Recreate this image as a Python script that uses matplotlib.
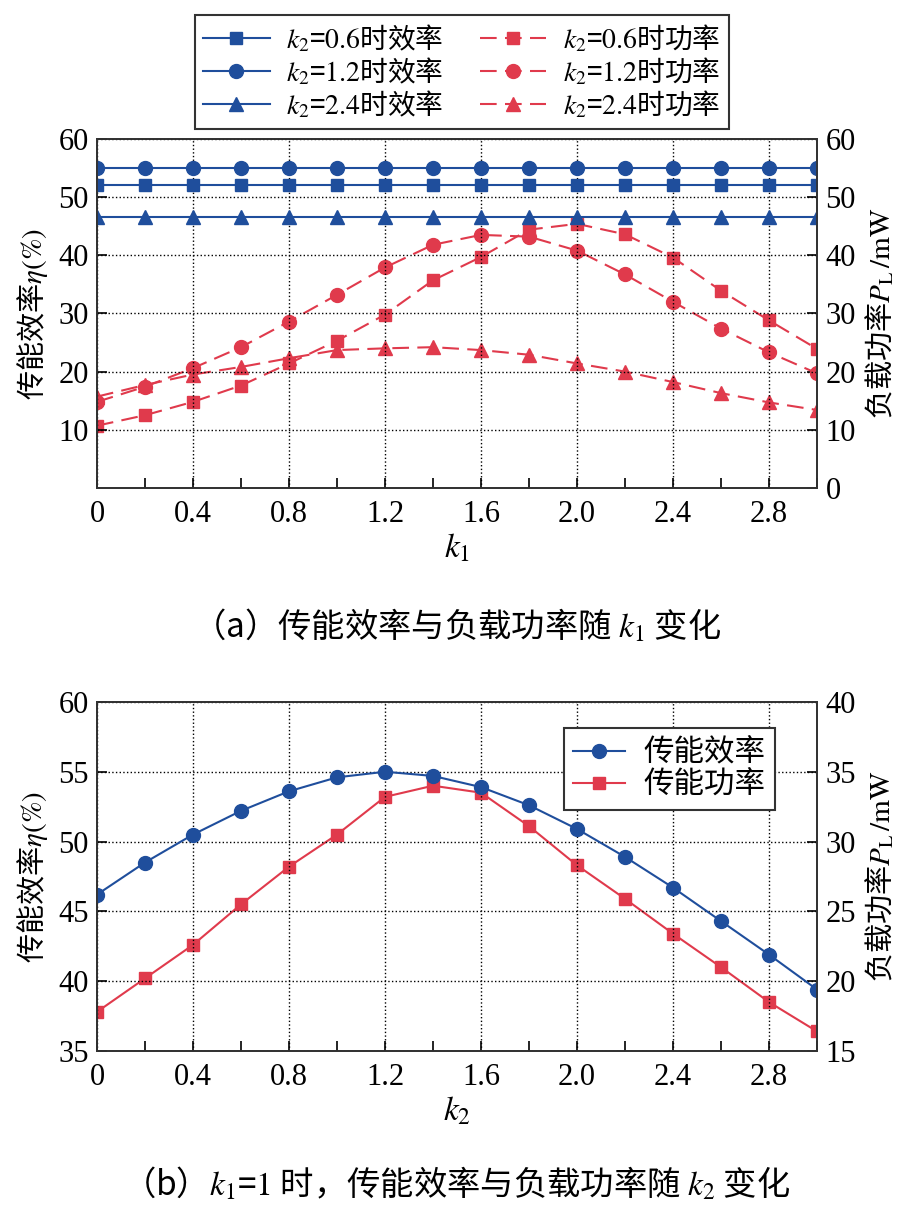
import matplotlib
matplotlib.use('Agg')
import matplotlib.pyplot as plt
from matplotlib.ticker import MultipleLocator

plt.rcParams['font.family'] = ['Liberation Serif', 'Noto Sans CJK SC']
plt.rcParams['mathtext.fontset'] = 'stix'
CJK = 'Noto Sans CJK SC'

# ---- data (a): vs k1 ----
k1 = [0.0, 0.2, 0.4, 0.6, 0.8, 1.0, 1.2, 1.4, 1.6, 1.8, 2.0, 2.2, 2.4, 2.6, 2.8, 3.0]
eff_k2_06 = [52.1] * 16
eff_k2_12 = [55.0] * 16
eff_k2_24 = [46.6] * 16
pow_k2_06 = [10.7, 12.5, 14.8, 17.6, 21.4, 25.3, 29.8, 35.7, 39.7, 44.4, 45.4, 43.6, 39.6, 33.9, 28.8, 23.9]
pow_k2_12 = [14.8, 17.4, 20.6, 24.2, 28.6, 33.2, 37.9, 41.8, 43.5, 43.2, 40.8, 36.7, 32.0, 27.4, 23.3, 19.7]
pow_k2_24 = [15.7, 17.7, 19.5, 20.8, 22.3, 23.7, 24.0, 24.2, 23.7, 22.9, 21.4, 20.0, 18.2, 16.3, 14.7, 13.4]

# ---- data (b): vs k2, k1 = 1 ----
k2 = [0.0, 0.2, 0.4, 0.6, 0.8, 1.0, 1.2, 1.4, 1.6, 1.8, 2.0, 2.2, 2.4, 2.6, 2.8, 3.0]
eff_b = [46.2, 48.5, 50.5, 52.2, 53.6, 54.6, 55.0, 54.7, 53.9, 52.6, 50.9, 48.9, 46.7, 44.3, 41.9, 39.4]
pow_b = [17.8, 20.2, 22.6, 25.5, 28.2, 30.5, 33.2, 34.0, 33.5, 31.1, 28.3, 25.9, 23.4, 21.0, 18.5, 16.4]

x_ticks = [0, 0.4, 0.8, 1.2, 1.6, 2.0, 2.4, 2.8]
x_labels = ['0', '0.4', '0.8', '1.2', '1.6', '2.0', '2.4', '2.8']

BLUE = '#1f4e9c'
RED = '#e03a4c'
FS = 22
DASH = (0, (8, 4))
EFF_LABEL = '传能效率$\\eta\\mathrm{(\\%)}$'
POW_LABEL = '负载功率$P_\\mathrm{L}\\,\\mathrm{/mW}$'


def style_axes(ax, ax2):
    for a in (ax, ax2):
        for s in a.spines.values():
            s.set_linewidth(1.3)
            s.set_color('#333333')
    ax.set_xlim(0, 3.0)
    ax.set_xticks(x_ticks)
    ax.set_xticklabels(x_labels)
    ax.xaxis.set_minor_locator(MultipleLocator(0.2))
    ax.tick_params(axis='x', which='both', direction='in', top=False, length=7, width=1.2,
                   labelsize=FS, pad=9)
    ax.tick_params(axis='y', which='both', direction='in', right=False, length=7, width=1.2,
                   labelsize=FS, pad=6)
    ax2.tick_params(axis='y', direction='in', length=7, width=1.2, labelsize=FS, pad=6)
    ax.grid(True, which='major', linestyle=':', color='black', linewidth=1.0)


fig = plt.figure(figsize=(9.13, 12.09), dpi=100)

# ---------- (a) ----------
ax = fig.add_axes([0.1062, 0.5964, 0.7887, 0.2887])
ax2 = ax.twinx()
l1, = ax.plot(k1, eff_k2_06, color=BLUE, marker='s', ms=9, lw=1.5)
l2, = ax.plot(k1, eff_k2_12, color=BLUE, marker='o', ms=10, lw=1.5)
l3, = ax.plot(k1, eff_k2_24, color=BLUE, marker='^', ms=10, lw=1.5)
p1, = ax2.plot(k1, pow_k2_06, color=RED, marker='s', ms=9, lw=1.5, ls=DASH)
p2, = ax2.plot(k1, pow_k2_12, color=RED, marker='o', ms=10, lw=1.5, ls=DASH)
p3, = ax2.plot(k1, pow_k2_24, color=RED, marker='^', ms=10, lw=1.5, ls=DASH)
ax.set_ylim(0, 60)
ax2.set_ylim(0, 60)
ax.set_yticks([10, 20, 30, 40, 50, 60])
ax2.set_yticks([0, 10, 20, 30, 40, 50, 60])
style_axes(ax, ax2)
ax.set_xlabel('$k_1$', fontsize=FS + 2, labelpad=2)
ax.set_ylabel(EFF_LABEL, fontsize=21, family=CJK, labelpad=6)
ax2.set_ylabel(POW_LABEL, fontsize=21, family=CJK, labelpad=6)
ax.set_zorder(ax2.get_zorder() + 1)
ax.patch.set_visible(False)

leg = fig.legend([l1, l2, l3, p1, p2, p3],
                 ['$k_2$=$0.6$时效率', '$k_2$=$1.2$时效率', '$k_2$=$2.4$时效率',
                  '$k_2$=$0.6$时功率', '$k_2$=$1.2$时功率', '$k_2$=$2.4$时功率'],
                 ncol=2, loc='upper center', bbox_to_anchor=(0.5055, 0.999),
                 prop={'family': CJK, 'size': 20}, fancybox=False, edgecolor='#333333',
                 framealpha=1, handlelength=2.4, columnspacing=1.3, labelspacing=0.05,
                 borderpad=0.3, handletextpad=0.6)
leg.get_frame().set_linewidth(1.5)

fig.text(0.5, 1 - 627 / 1209, '（a）传能效率与负载功率随 $k_1$ 变化', ha='center', va='center',
         fontsize=24, family=CJK)

# ---------- (b) ----------
bx = fig.add_axes([0.1062, 0.1307, 0.7887, 0.2887])
bx2 = bx.twinx()
e, = bx.plot(k2, eff_b, color=BLUE, marker='o', ms=10, lw=1.5)
p, = bx2.plot(k2, pow_b, color=RED, marker='s', ms=9, lw=1.5)
bx.set_ylim(35, 60)
bx2.set_ylim(15, 40)
bx.set_yticks([35, 40, 45, 50, 55, 60])
bx2.set_yticks([15, 20, 25, 30, 35, 40])
style_axes(bx, bx2)
bx.set_xlabel('$k_2$', fontsize=FS + 2, labelpad=2)
bx.set_ylabel(EFF_LABEL, fontsize=21, family=CJK, labelpad=6)
bx2.set_ylabel(POW_LABEL, fontsize=21, family=CJK, labelpad=6)
bx.set_zorder(bx2.get_zorder() + 1)
bx.patch.set_visible(False)

leg2 = bx.legend([e, p], ['传能效率', '传能功率'], loc='upper right',
                 bbox_to_anchor=(0.9625, 0.968), prop={'family': CJK, 'size': 22},
                 fancybox=False, edgecolor='#333333', framealpha=1, handlelength=1.7,
                 handletextpad=0.6, labelspacing=0.05, borderpad=0.3)
leg2.get_frame().set_linewidth(1.5)

fig.text(0.5, 1 - 1185 / 1209, '（b）$k_1$=$1$ 时，传能效率与负载功率随 $k_2$ 变化', ha='center',
         va='center', fontsize=24, family=CJK)

fig.savefig('out.png', dpi=100)
